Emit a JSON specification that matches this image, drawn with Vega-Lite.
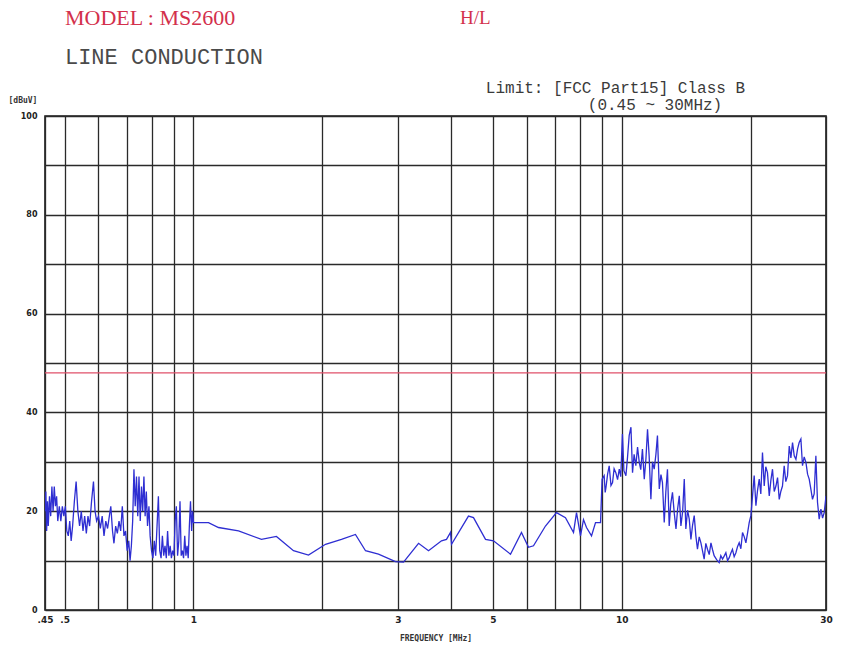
{
  "$schema": "https://vega.github.io/schema/vega-lite/v6.json",
  "width": 781,
  "height": 494,
  "autosize": {"type": "none"},
  "padding": {"left": 45, "top": 116, "right": 27, "bottom": 49},
  "background": "white",
  "config": {
    "view": {"stroke": "#1a1a1a", "strokeWidth": 1.6},
    "axis": {"gridColor": "#2a2a2a", "gridWidth": 1.3, "gridOpacity": 1, "domain": false, "ticks": false, "labelColor": "#222", "titleColor": "#333"}
  },
  "datasets": {
    "trace": [
      {"f": 0.450, "dB": 20}, {"f": 0.452, "dB": 24}, {"f": 0.454, "dB": 16}, {"f": 0.456, "dB": 22}, {"f": 0.458, "dB": 17},
      {"f": 0.461, "dB": 23}, {"f": 0.464, "dB": 19}, {"f": 0.467, "dB": 25}, {"f": 0.470, "dB": 20}, {"f": 0.473, "dB": 25},
      {"f": 0.476, "dB": 21}, {"f": 0.479, "dB": 23}, {"f": 0.482, "dB": 18}, {"f": 0.486, "dB": 21}, {"f": 0.490, "dB": 18},
      {"f": 0.494, "dB": 21}, {"f": 0.498, "dB": 19}, {"f": 0.502, "dB": 21}, {"f": 0.506, "dB": 16}, {"f": 0.510, "dB": 15},
      {"f": 0.514, "dB": 18}, {"f": 0.518, "dB": 14}, {"f": 0.522, "dB": 17}, {"f": 0.527, "dB": 22}, {"f": 0.532, "dB": 26},
      {"f": 0.537, "dB": 20}, {"f": 0.542, "dB": 17}, {"f": 0.547, "dB": 20}, {"f": 0.552, "dB": 16}, {"f": 0.557, "dB": 19},
      {"f": 0.562, "dB": 15.5}, {"f": 0.567, "dB": 19}, {"f": 0.572, "dB": 17}, {"f": 0.578, "dB": 22}, {"f": 0.584, "dB": 26},
      {"f": 0.589, "dB": 20}, {"f": 0.594, "dB": 18}, {"f": 0.600, "dB": 19}, {"f": 0.606, "dB": 16.5}, {"f": 0.612, "dB": 19},
      {"f": 0.618, "dB": 15}, {"f": 0.624, "dB": 18}, {"f": 0.630, "dB": 16.5}, {"f": 0.636, "dB": 19}, {"f": 0.641, "dB": 21},
      {"f": 0.647, "dB": 16}, {"f": 0.652, "dB": 13.5}, {"f": 0.658, "dB": 17}, {"f": 0.664, "dB": 15.5}, {"f": 0.670, "dB": 18},
      {"f": 0.676, "dB": 16}, {"f": 0.682, "dB": 21}, {"f": 0.688, "dB": 15}, {"f": 0.694, "dB": 16}, {"f": 0.700, "dB": 12},
      {"f": 0.706, "dB": 14}, {"f": 0.711, "dB": 10}, {"f": 0.716, "dB": 13}, {"f": 0.721, "dB": 18}, {"f": 0.726, "dB": 28.5},
      {"f": 0.731, "dB": 21}, {"f": 0.736, "dB": 27}, {"f": 0.741, "dB": 19}, {"f": 0.746, "dB": 27}, {"f": 0.751, "dB": 18},
      {"f": 0.756, "dB": 25}, {"f": 0.761, "dB": 20}, {"f": 0.766, "dB": 27}, {"f": 0.771, "dB": 19}, {"f": 0.776, "dB": 24},
      {"f": 0.781, "dB": 17}, {"f": 0.787, "dB": 21}, {"f": 0.792, "dB": 15}, {"f": 0.798, "dB": 12}, {"f": 0.804, "dB": 10.5},
      {"f": 0.810, "dB": 14}, {"f": 0.816, "dB": 11}, {"f": 0.822, "dB": 17}, {"f": 0.828, "dB": 23}, {"f": 0.834, "dB": 12},
      {"f": 0.840, "dB": 10.5}, {"f": 0.846, "dB": 15}, {"f": 0.852, "dB": 11}, {"f": 0.858, "dB": 13}, {"f": 0.864, "dB": 10.5},
      {"f": 0.870, "dB": 16}, {"f": 0.876, "dB": 11}, {"f": 0.882, "dB": 13}, {"f": 0.888, "dB": 10.5}, {"f": 0.894, "dB": 12},
      {"f": 0.900, "dB": 11}, {"f": 0.906, "dB": 18}, {"f": 0.912, "dB": 21}, {"f": 0.918, "dB": 11}, {"f": 0.924, "dB": 14},
      {"f": 0.930, "dB": 22}, {"f": 0.936, "dB": 11}, {"f": 0.942, "dB": 12}, {"f": 0.948, "dB": 10.5}, {"f": 0.954, "dB": 15},
      {"f": 0.960, "dB": 11}, {"f": 0.966, "dB": 13}, {"f": 0.972, "dB": 10.5}, {"f": 0.978, "dB": 17}, {"f": 0.984, "dB": 22},
      {"f": 0.990, "dB": 16}, {"f": 0.995, "dB": 20}, {"f": 1.000, "dB": 17.7},
      {"f": 1.084, "dB": 17.7}, {"f": 1.144, "dB": 16.7}, {"f": 1.274, "dB": 16}, {"f": 1.441, "dB": 14.3}, {"f": 1.562, "dB": 14.9},
      {"f": 1.712, "dB": 12}, {"f": 1.856, "dB": 11.1}, {"f": 2.034, "dB": 13.3}, {"f": 2.216, "dB": 14.3}, {"f": 2.389, "dB": 15.3},
      {"f": 2.522, "dB": 12}, {"f": 2.704, "dB": 11.3}, {"f": 2.963, "dB": 9.8}, {"f": 3.094, "dB": 9.7}, {"f": 3.354, "dB": 13.5},
      {"f": 3.539, "dB": 12}, {"f": 3.795, "dB": 14}, {"f": 3.898, "dB": 14.3}, {"f": 3.983, "dB": 15.7}, {"f": 4.005, "dB": 13.3},
      {"f": 4.387, "dB": 19}, {"f": 4.507, "dB": 18.7}, {"f": 4.808, "dB": 14.3}, {"f": 5.019, "dB": 14}, {"f": 5.499, "dB": 11.3},
      {"f": 5.834, "dB": 15.7}, {"f": 6.058, "dB": 12.7}, {"f": 6.223, "dB": 13}, {"f": 6.637, "dB": 17}, {"f": 7.042, "dB": 19.7},
      {"f": 7.391, "dB": 18.7}, {"f": 7.718, "dB": 15.7}, {"f": 7.843, "dB": 19.7}, {"f": 8.013, "dB": 15}, {"f": 8.143, "dB": 18.3},
      {"f": 8.276, "dB": 16.7}, {"f": 8.502, "dB": 15}, {"f": 8.687, "dB": 17.7}, {"f": 8.924, "dB": 17.7}, {"f": 9.000, "dB": 26.5},
      {"f": 9.10, "dB": 27.2}, {"f": 9.15, "dB": 23.8}, {"f": 9.19, "dB": 24.8}, {"f": 9.27, "dB": 27.5}, {"f": 9.35, "dB": 29.2},
      {"f": 9.44, "dB": 25.2}, {"f": 9.52, "dB": 25.8}, {"f": 9.60, "dB": 28.6}, {"f": 9.69, "dB": 27.8}, {"f": 9.78, "dB": 26.4},
      {"f": 9.87, "dB": 28.5}, {"f": 9.95, "dB": 27}, {"f": 10.04, "dB": 35.6}, {"f": 10.12, "dB": 28.2}, {"f": 10.23, "dB": 27.2},
      {"f": 10.32, "dB": 31}, {"f": 10.41, "dB": 35.3}, {"f": 10.51, "dB": 37}, {"f": 10.60, "dB": 27.8}, {"f": 10.69, "dB": 31.5},
      {"f": 10.79, "dB": 29.2}, {"f": 10.89, "dB": 33}, {"f": 10.99, "dB": 29.9}, {"f": 11.08, "dB": 28.4}, {"f": 11.18, "dB": 32.6},
      {"f": 11.29, "dB": 26.5}, {"f": 11.39, "dB": 30.5}, {"f": 11.49, "dB": 36.6}, {"f": 11.59, "dB": 31.2}, {"f": 11.70, "dB": 22.4},
      {"f": 11.80, "dB": 30}, {"f": 11.91, "dB": 28.5}, {"f": 12.02, "dB": 31.5}, {"f": 12.12, "dB": 35.3}, {"f": 12.24, "dB": 24.5},
      {"f": 12.35, "dB": 27.4}, {"f": 12.45, "dB": 25.8}, {"f": 12.57, "dB": 17.7}, {"f": 12.68, "dB": 24}, {"f": 12.79, "dB": 28.5},
      {"f": 12.91, "dB": 17}, {"f": 13.02, "dB": 21.5}, {"f": 13.14, "dB": 23.8}, {"f": 13.27, "dB": 19.5}, {"f": 13.39, "dB": 16.4},
      {"f": 13.51, "dB": 20.5}, {"f": 13.63, "dB": 23.1}, {"f": 13.75, "dB": 17}, {"f": 13.88, "dB": 20}, {"f": 14.00, "dB": 26.5},
      {"f": 14.12, "dB": 16.4}, {"f": 14.25, "dB": 20.2}, {"f": 14.38, "dB": 18.4}, {"f": 14.51, "dB": 14.3}, {"f": 14.64, "dB": 17.2},
      {"f": 14.77, "dB": 19.1}, {"f": 14.90, "dB": 15}, {"f": 15.03, "dB": 12.3}, {"f": 15.17, "dB": 14.8}, {"f": 15.31, "dB": 13.6},
      {"f": 15.44, "dB": 12}, {"f": 15.58, "dB": 10.3}, {"f": 15.72, "dB": 13.5}, {"f": 15.86, "dB": 12.3}, {"f": 16.01, "dB": 11.2},
      {"f": 16.16, "dB": 13.6}, {"f": 16.30, "dB": 12.2}, {"f": 16.44, "dB": 11}, {"f": 16.66, "dB": 10.2}, {"f": 16.89, "dB": 9.6},
      {"f": 17.04, "dB": 11}, {"f": 17.20, "dB": 10.3}, {"f": 17.35, "dB": 10.9}, {"f": 17.51, "dB": 11.6}, {"f": 17.67, "dB": 10}, {"f": 17.83, "dB": 10.6},
      {"f": 17.98, "dB": 11.5}, {"f": 18.14, "dB": 12.3}, {"f": 18.31, "dB": 10.8}, {"f": 18.48, "dB": 11.6}, {"f": 18.64, "dB": 12.8},
      {"f": 18.81, "dB": 13.6}, {"f": 18.98, "dB": 12.4}, {"f": 19.15, "dB": 15.7}, {"f": 19.33, "dB": 14.8}, {"f": 19.50, "dB": 13.6},
      {"f": 19.67, "dB": 15.5}, {"f": 19.85, "dB": 17.7},
      {"f": 20.03, "dB": 19.1}, {"f": 20.21, "dB": 23.1}, {"f": 20.39, "dB": 27.2}, {"f": 20.58, "dB": 21.1}, {"f": 20.76, "dB": 24.2}, {"f": 20.95, "dB": 26.5},
      {"f": 21.13, "dB": 23.5}, {"f": 21.32, "dB": 31.9}, {"f": 21.52, "dB": 25.1}, {"f": 21.70, "dB": 29}, {"f": 21.90, "dB": 27.8}, {"f": 22.11, "dB": 23.1},
      {"f": 22.30, "dB": 26.2}, {"f": 22.50, "dB": 28.5}, {"f": 22.71, "dB": 24}, {"f": 22.92, "dB": 25.1}, {"f": 23.12, "dB": 26.8}, {"f": 23.33, "dB": 22.4},
      {"f": 23.53, "dB": 24}, {"f": 23.74, "dB": 25.1}, {"f": 23.96, "dB": 29.2}, {"f": 24.17, "dB": 26}, {"f": 24.39, "dB": 27.2},
      {"f": 24.62, "dB": 33.2}, {"f": 24.84, "dB": 30.8}, {"f": 25.06, "dB": 33.9}, {"f": 25.29, "dB": 31.2}, {"f": 25.52, "dB": 30.5}, {"f": 25.75, "dB": 32.6}, {"f": 25.97, "dB": 33.9}, {"f": 26.21, "dB": 34.6},
      {"f": 26.44, "dB": 29.2}, {"f": 26.68, "dB": 31}, {"f": 26.93, "dB": 29.9}, {"f": 27.17, "dB": 27.5}, {"f": 27.41, "dB": 26.5}, {"f": 27.65, "dB": 24.5}, {"f": 27.90, "dB": 22.4}, {"f": 28.15, "dB": 23.5}, {"f": 28.41, "dB": 31.2},
      {"f": 28.66, "dB": 21.8}, {"f": 28.92, "dB": 18.4}, {"f": 29.19, "dB": 20.4}, {"f": 29.45, "dB": 18.6}, {"f": 29.71, "dB": 19.7}, {"f": 30.00, "dB": 23.1}
    ],
    "limit": [{"limit": 48}]
  },
  "layer": [
    {
      "data": {"name": "trace"},
      "mark": {"type": "line", "color": "#2e2ed2", "strokeWidth": 1.3, "clip": true},
      "encoding": {
        "x": {
          "field": "f", "type": "quantitative",
          "scale": {"type": "log", "domain": [0.45, 30], "nice": false},
          "axis": {
            "values": [0.45, 0.5, 0.6, 0.7, 0.8, 0.9, 1, 2, 3, 4, 5, 6, 7, 8, 9, 10, 20, 30],
            "grid": true, "format": "~g",
            "labelExpr": "datum.value == 0.45 ? '.45' : datum.value == 0.5 ? '.5' : (indexof([1, 3, 5, 10, 30], datum.value) >= 0 ? datum.label : '')",
            "labelOverlap": false, "labelFlush": false, "labelBound": false,
            "labelFont": "DejaVu Sans", "labelFontSize": 9, "labelFontWeight": "bold", "labelPadding": 5,
            "title": "FREQUENCY  [MHz]", "titleFont": "DejaVu Sans Mono", "titleFontSize": 8, "titleFontWeight": "bold", "titlePadding": 10
          }
        },
        "y": {
          "field": "dB", "type": "quantitative",
          "scale": {"domain": [0, 100], "nice": false},
          "axis": {
            "values": [0, 10, 20, 30, 40, 50, 60, 70, 80, 90, 100],
            "grid": true,
            "labelExpr": "datum.value % 20 == 0 ? datum.label : ''",
            "labelFont": "DejaVu Sans", "labelFontSize": 8, "labelFontWeight": "bold", "labelPadding": 8,
            "title": "[dBuV]", "titleAngle": 0, "titleX": -37, "titleY": -16, "titleAlign": "left", "titleBaseline": "middle",
            "titleFont": "DejaVu Sans Mono", "titleFontSize": 8, "titleFontWeight": "bold"
          }
        }
      }
    },
    {
      "data": {"name": "limit"},
      "mark": {"type": "rule", "color": "#e0506a", "strokeWidth": 1.3},
      "encoding": {"y": {"field": "limit", "type": "quantitative"}}
    },
    {
      "data": {"values": [{}]},
      "mark": {"type": "text", "align": "left", "baseline": "middle", "font": "Liberation Serif", "fontSize": 22, "color": "#d3304c"},
      "encoding": {"x": {"datum": 0.501}, "y": {"datum": 119.8}, "text": {"value": "MODEL : MS2600"}}
    },
    {
      "data": {"values": [{}]},
      "mark": {"type": "text", "align": "left", "baseline": "middle", "font": "Liberation Serif", "fontSize": 19, "color": "#d3304c"},
      "encoding": {"x": {"datum": 4.19}, "y": {"datum": 119.8}, "text": {"value": "H/L"}}
    },
    {
      "data": {"values": [{}]},
      "mark": {"type": "text", "align": "left", "baseline": "middle", "font": "Liberation Mono", "fontSize": 22, "color": "#4a4a4a"},
      "encoding": {"x": {"datum": 0.501}, "y": {"datum": 111.9}, "text": {"value": "LINE CONDUCTION"}}
    },
    {
      "data": {"values": [{}]},
      "mark": {"type": "text", "align": "center", "baseline": "middle", "font": "Liberation Mono", "fontSize": 16, "color": "#3a3a3a"},
      "encoding": {"x": {"datum": 9.67}, "y": {"datum": 105.7}, "text": {"value": "Limit: [FCC Part15] Class B"}}
    },
    {
      "data": {"values": [{}]},
      "mark": {"type": "text", "align": "center", "baseline": "middle", "font": "Liberation Mono", "fontSize": 16, "color": "#3a3a3a"},
      "encoding": {"x": {"datum": 11.96}, "y": {"datum": 102.2}, "text": {"value": "(0.45 ~ 30MHz)"}}
    }
  ]
}
